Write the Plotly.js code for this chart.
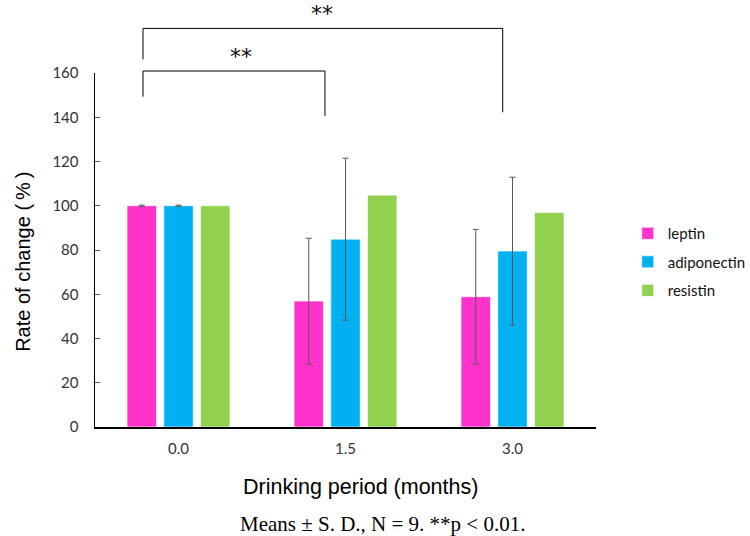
<!DOCTYPE html>
<html>
<head>
<meta charset="utf-8">
<script src="https://cdn.plot.ly/plotly-3.0.1.min.js"></script>
<style>html,body{margin:0;padding:0;background:#fff;}#chart{width:750px;height:536px;}</style>
</head>
<body>
<div id="chart"></div>
<script>
const periods = ["0.0", "1.5", "3.0"];
const leptin = [100, 56.9, 58.9];
const leptinSD = [0.3, 28.4, 30.4];
const adiponectin = [100, 84.9, 79.5];
const adiponectinSD = [0.3, 36.6, 33.4];
const resistin = [100, 104.8, 96.9];
const seriesNames = ["leptin", "adiponectin", "resistin"];
const colors = ["#FF33CC", "#00B0F0", "#92D050"];
const yTicks = [0, 20, 40, 60, 80, 100, 120, 140, 160];

const err = (arr) => ({type: "data", array: arr, visible: true, color: "#595959", thickness: 1, width: 3});
const calibriLike = "Lato, 'Open Sans', sans-serif";

const traces = [
  {type: "bar", name: seriesNames[0], x: periods, y: leptin, error_y: err(leptinSD), legendgroup: "a",
   marker: {color: colors[0], line: {color: "rgba(255,255,255,0.6)", width: 1}}},
  {type: "bar", name: seriesNames[1], x: periods, y: adiponectin, error_y: err(adiponectinSD), legendgroup: "b",
   marker: {color: colors[1], line: {color: "rgba(255,255,255,0.6)", width: 1}}},
  {type: "bar", name: seriesNames[2], x: periods, y: resistin, legendgroup: "c",
   marker: {color: colors[2], line: {color: "rgba(255,255,255,0.6)", width: 1}}}
];

const lineStyle = {color: "#000", width: 1};
const layout = {
  width: 750, height: 536,
  margin: {l: 95, r: 154, t: 73, b: 109, autoexpand: false},
  paper_bgcolor: "#fff", plot_bgcolor: "#fff",
  barmode: "group", bargap: 0.34, bargroupgap: 0.2,
  showlegend: true,
  legend: {xref: "container", yref: "container", x: 0.837, y: 0.511, xanchor: "left", yanchor: "middle",
           tracegroupgap: 6, font: {family: calibriLike, size: 15, color: "#111"}, itemwidth: 30},
  xaxis: {type: "category", showline: true, linecolor: "#000", linewidth: 1.5, ticks: "", showgrid: false,
          zeroline: false, ticklabelstandoff: 7, tickfont: {family: calibriLike, size: 15, color: "#333"}},
  yaxis: {range: [0, 160], tickvals: yTicks, showline: true, linecolor: "#000", linewidth: 1.5,
          ticks: "inside", ticklen: 5, tickcolor: "#555", showgrid: false, zeroline: false,
          ticklabelstandoff: 12,
          tickfont: {family: calibriLike, size: 15, color: "#333"}},
  shapes: [
    {type: "path", xref: "paper", yref: "paper", path: "M 0.0958 0.933 L 0.0958 1.0056 L 0.459 1.0056 L 0.459 0.879", line: lineStyle},
    {type: "path", xref: "paper", yref: "paper", path: "M 0.0958 1.0387 L 0.0958 1.126 L 0.8138 1.126 L 0.8138 0.889", line: lineStyle}
  ],
  annotations: [
    {xref: "paper", yref: "paper", x: -0.1437, y: 0.4666, xanchor: "center", yanchor: "middle", textangle: -90,
     text: "Rate of change (\u2009%\u2009)", showarrow: false,
     font: {family: "'Liberation Sans', Arial, sans-serif", size: 20, color: "#000"}},
    {xref: "paper", yref: "paper", x: 0.529, y: -0.1685, xanchor: "center", yanchor: "middle",
     text: "Drinking period (months)", showarrow: false,
     font: {family: "'Liberation Sans', Arial, sans-serif", size: 21.5, color: "#000"}},
    {xref: "paper", yref: "paper", x: 0.2655, y: 1.0056, yanchor: "bottom", yshift: 0, text: "**", showarrow: false,
     font: {family: "'DejaVu Sans', sans-serif", size: 22, color: "#000"}},
    {xref: "paper", yref: "paper", x: 0.453, y: 1.126, yanchor: "bottom", yshift: 0, text: "**", showarrow: false,
     font: {family: "'DejaVu Sans', sans-serif", size: 22, color: "#000"}},
    {xref: "paper", yref: "paper", x: 0.574, y: -0.275, yanchor: "middle", text: "Means ± S. D., N = 9. **p &lt; 0.01.", showarrow: false,
     font: {family: "'Liberation Serif', 'Times New Roman', serif", size: 21, color: "#000"}}
  ]
};

Plotly.newPlot("chart", traces, layout, {displayModeBar: false, staticPlot: true});
</script>
</body>
</html>
